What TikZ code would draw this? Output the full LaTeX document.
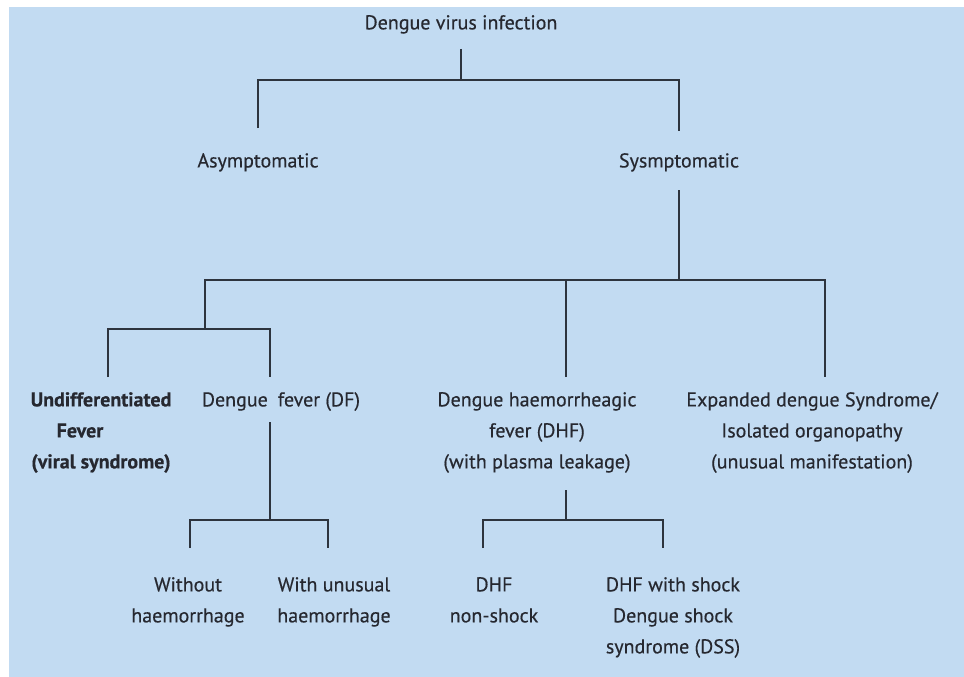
\documentclass[tikz,border=0pt]{standalone}
\usepackage{fontspec}
\setmainfont{PT Sans}[FakeBold=0.4]
\definecolor{bg}{RGB}{194,219,242}
\definecolor{ink}{RGB}{38,40,48}
\definecolor{linec}{RGB}{45,52,62}
\begin{document}
\begin{tikzpicture}[x=1pt,y=-1pt,
  lbl/.style={font=\fontsize{20}{31}\selectfont, text=ink, align=center, anchor=north, inner sep=0pt},
  conn/.style={draw=linec, line width=2pt}]
\useasboundingbox (0,0) rectangle (964,677);
\fill[white] (0,0) rectangle (964,677);
\fill[bg] (9,7) rectangle (964,677);

% nodes
\node[lbl] (root) at (461,15) {Dengue virus infection};
\node[lbl] (asym) at (258,153) {Asymptomatic};
\node[lbl] (sym) at (679,153) {Sysmptomatic};
\node[lbl, font=\fontsize{20}{31}\selectfont\bfseries] (undiff) at (101,392) {Undifferentiated\\Fever\rule{42pt}{0pt}\\(viral syndrome)};
\node[lbl] (df) at (281,392) {Dengue\hspace{0.5em}fever (DF)};
\node[lbl] (dhf) at (537,392) {Dengue haemorrheagic\\fever (DHF)\\(with plasma leakage)};
\node[lbl] (exp) at (812,392) {Expanded dengue Syndrome/\\Isolated organopathy\\(unusual manifestation)};
\node[lbl] (woh) at (188,577) {Without\\haemorrhage};
\node[lbl] (wuh) at (334,577) {With unusual\\haemorrhage};
\node[lbl] (dns) at (494,577) {DHF\\non-shock};
\node[lbl] (dss) at (673,577) {DHF with shock\\Dengue shock\\syndrome (DSS)};

% junction coordinates
\coordinate (r0) at (461,49);
\coordinate (r1) at (461,80);
\coordinate (ra) at (258,128);
\coordinate (rs) at (679,131);
\coordinate (s0) at (679,190);
\coordinate (s1) at (679,280);
\coordinate (c1) at (205,280);
\coordinate (c2) at (205,329);
\coordinate (cu) at (108,377);
\coordinate (cd) at (270,377);
\coordinate (ch) at (566,377);
\coordinate (ce) at (825,377);
\coordinate (d0) at (270,422);
\coordinate (d1) at (270,520);
\coordinate (dw) at (190,548);
\coordinate (du) at (328,548);
\coordinate (h0) at (566,490);
\coordinate (h1) at (566,520);
\coordinate (hn) at (483,548);
\coordinate (hs) at (663,548);

% connectors
\draw[conn] (r0) -- (r1);
\draw[conn] (ra) |- (r1) -| (rs);
\draw[conn] (s0) -- (s1);
\draw[conn] (c2) -- (c1) -- (ce |- c1) -- (ce);
\draw[conn] (ch) -- (ch |- c1);
\draw[conn] (cu) |- (c2) -| (cd);
\draw[conn] (d0) -- (d1);
\draw[conn] (dw) |- (d1) -| (du);
\draw[conn] (h0) -- (h1);
\draw[conn] (hn) |- (h1) -| (hs);
\end{tikzpicture}
\end{document}
